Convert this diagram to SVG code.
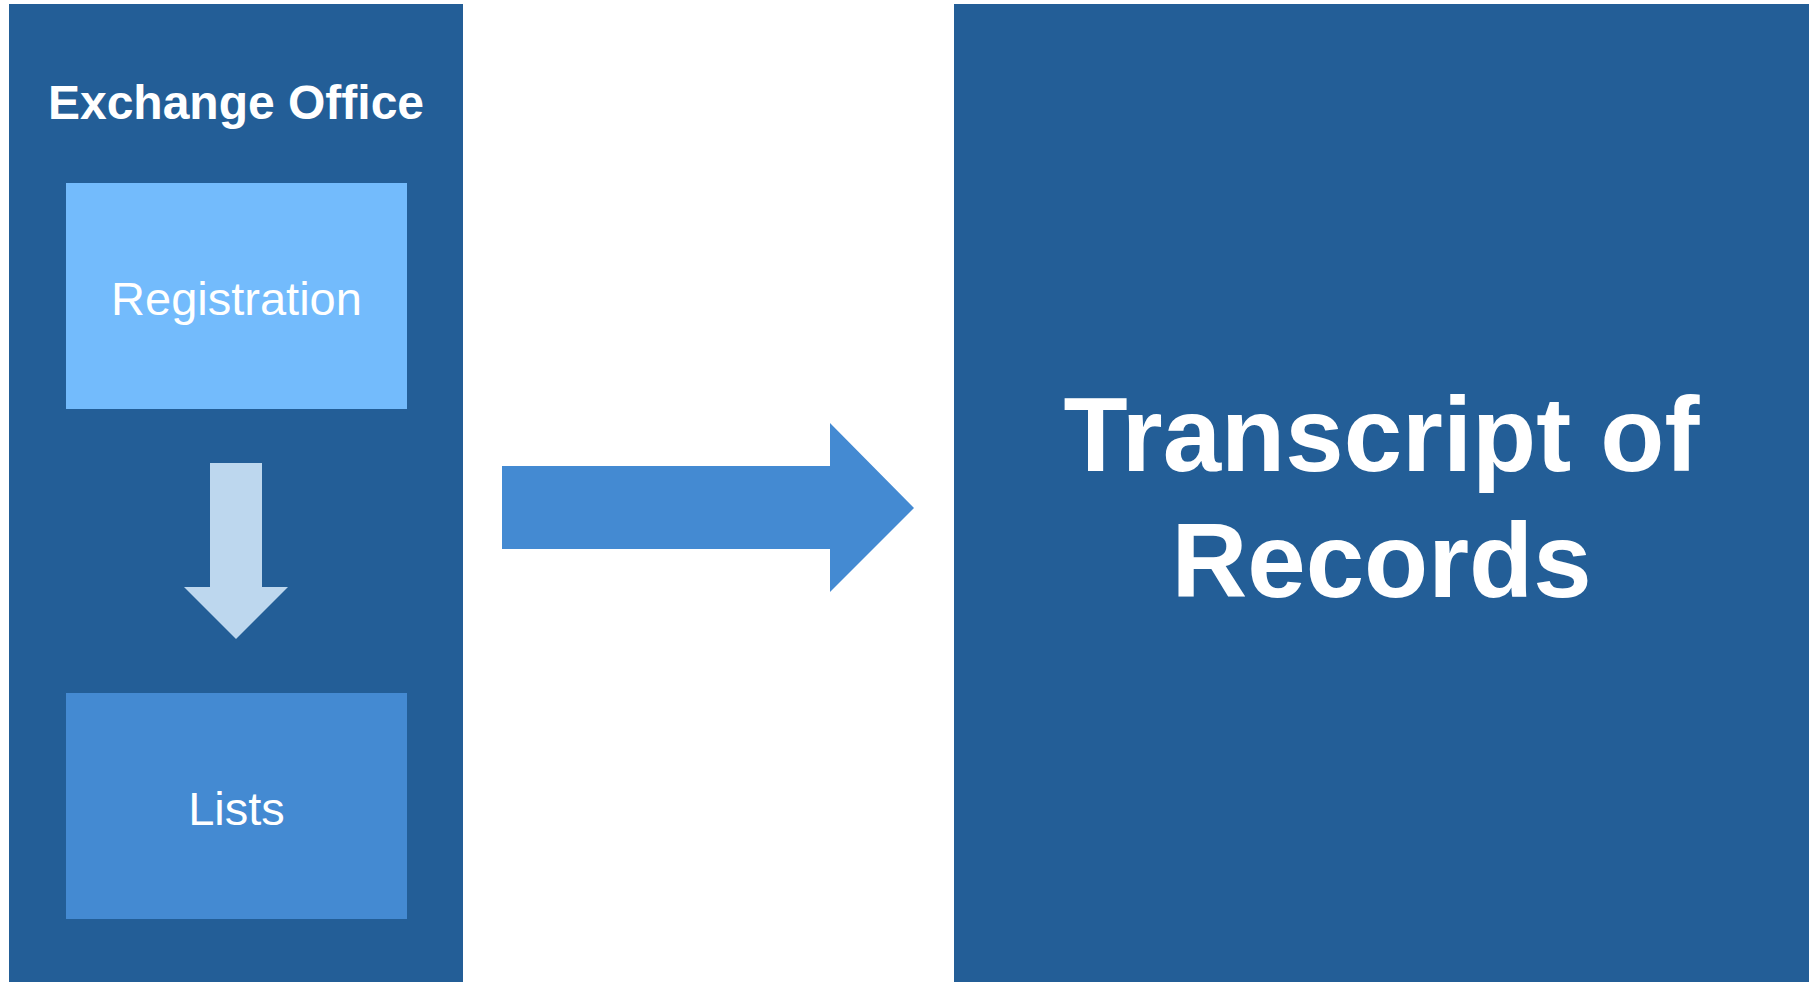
<svg xmlns="http://www.w3.org/2000/svg" width="1812" height="982" viewBox="0 0 1812 982">
<style>
.panel{fill:#235E97}
.lbl{font-family:"Liberation Sans",Arial,sans-serif;fill:#FFFFFF;text-anchor:middle}
.b{font-weight:bold}
</style>
<rect width="1812" height="982" fill="#FFFFFF"/>
<g id="exchange-office">
<rect class="panel" x="9" y="4" width="454" height="978"/>
<text class="lbl b" x="236" y="119" font-size="48">Exchange Office</text>
</g>
<g id="registration">
<rect x="66" y="183" width="341" height="226" fill="#73BBFC"/>
<text class="lbl" x="236.5" y="315" font-size="47">Registration</text>
</g>
<g id="lists">
<rect x="66" y="693" width="341" height="226" fill="#448AD2"/>
<text class="lbl" x="236.5" y="825" font-size="47">Lists</text>
</g>
<g id="transcript">
<rect class="panel" x="954" y="4" width="855" height="978"/>
<text class="lbl b" x="1381.5" y="471" font-size="105">Transcript of</text>
<text class="lbl b" x="1381.5" y="597" font-size="105">Records</text>
</g>
<g id="connectors">
<polygon points="210,463 262,463 262,587 288,587 236,639 184,587 210,587" fill="#BDD7EE"/>
<polygon points="502,466 830,466 830,423 914,508 830,592 830,549 502,549" fill="#448AD2"/>
</g>
</svg>
